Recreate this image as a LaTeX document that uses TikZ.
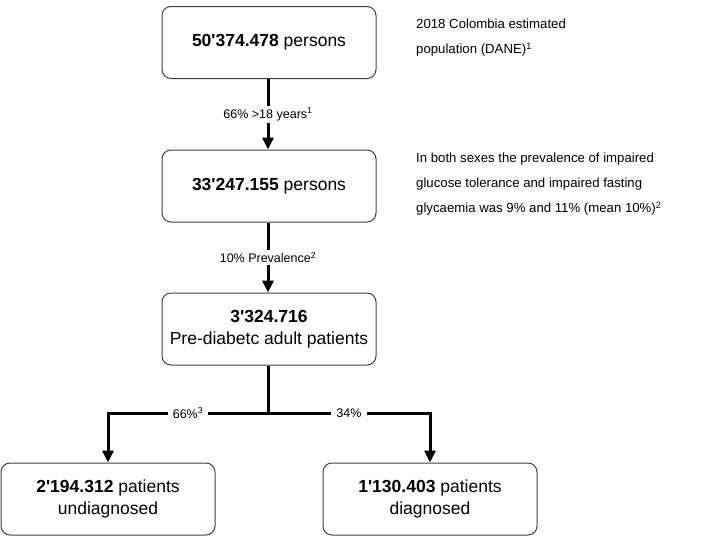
\documentclass[tikz,border=0pt]{standalone}
\usepackage{fontspec}
\setmainfont{Liberation Sans}[Ligatures=TeXOff]
\usetikzlibrary{arrows.meta}
\begin{document}
\begin{tikzpicture}[x=1pt,y=-1pt,
  box/.style={draw=black!75, line width=1pt, rounded corners=9pt, minimum width=214pt, minimum height=72pt, inner sep=0pt, align=center, font=\fontsize{17.5}{22}\selectfont},
  arr/.style={line width=3pt, -{Triangle[length=12pt,width=11pt]}},
  conn/.style={line width=3pt},
  lab/.style={fill=white, inner xsep=5pt, inner ysep=2pt, font=\fontsize{12.5}{15}\selectfont},
  note/.style={anchor=north west, align=left, inner sep=0pt, font=\fontsize{13.2}{25}\selectfont}]
\useasboundingbox (0,0) rectangle (708,536);
\node[box] (b1) at (269,42.5) {\textbf{50'374.478} persons};
\node[box] (b2) at (269,186) {\textbf{33'247.155} persons};
\node[box] (b3) at (269,329) {\textbf{3'324.716}\\Pre-diabetc adult patients};
\node[box] (bl) at (108,499) {\textbf{2'194.312} patients\\undiagnosed};
\node[box] (br) at (430,499) {\textbf{1'130.403} patients\\diagnosed};
\coordinate (j) at (268,413);
\draw[arr] (b1.south -| j) -- node[lab]{66\% >18 years\textsuperscript{1}} (b2.north -| j);
\draw[arr] (b2.south -| j) -- node[lab]{10\% Prevalence\textsuperscript{2}} (b3.north -| j);
\draw[conn] (b3.south -| j) -- (j);
\draw[arr] (j) -- node[lab]{66\%\textsuperscript{3}} (j -| bl) -- (bl.north);
\draw[arr] (j) -- node[lab]{34\%} (j -| br) -- (br.north);
\node[note] (n1) at (416,19) {2018 Colombia estimated\\population (DANE)\textsuperscript{1}};
\node[note] (n2) at (416,153) {In both sexes the prevalence of impaired\\glucose tolerance and impaired fasting\\glycaemia was 9\% and 11\% (mean 10\%)\textsuperscript{2}};
\end{tikzpicture}
\end{document}
